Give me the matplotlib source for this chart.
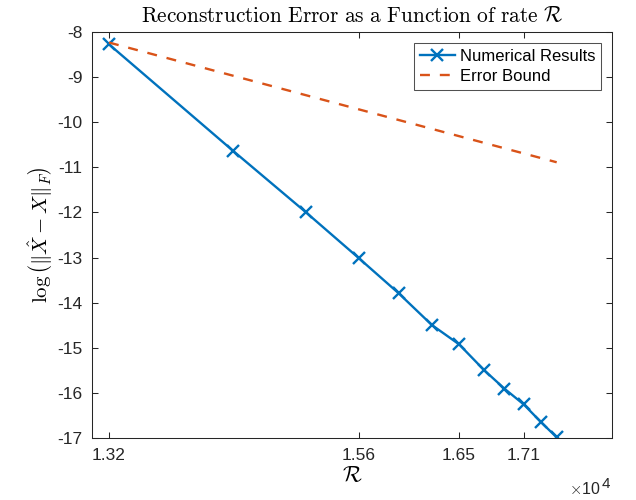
import matplotlib
matplotlib.use("Agg")
import matplotlib.pyplot as plt

# rate R (in units of 1e4) and log reconstruction error
rate = [1.3200, 1.4363, 1.5053, 1.5548, 1.5924, 1.6235, 1.6492, 1.6727,
        1.6918, 1.7100, 1.7266, 1.7410]
err_num = [-8.28, -10.63, -12.00, -13.01, -13.79, -14.49, -14.92, -15.49,
           -15.90, -16.25, -16.65, -16.98]

bound_rate = [1.3200, 1.7410]
err_bound = [-8.24, -10.89]

# ticks sit on data points 0, 3, 6, 9
xtick_idx = [0, 3, 6, 9]
xtick_labels = ["1.32", "1.56", "1.65", "1.71"]
yticks = list(range(-17, -7))

plt.rcParams["font.family"] = ["Liberation Sans", "DejaVu Sans"]
plt.rcParams["mathtext.fontset"] = "cm"

BLUE = "#0072BD"
ORANGE = "#D95319"
AXC = "#262626"

W, H = 636, 500
fig = plt.figure(figsize=(W / 100, H / 100), dpi=100)
ax = fig.add_axes([91.7 / W, 1 - 438.3 / H, (612.3 - 91.7) / W, (438.3 - 31.7) / H])

ax.plot(rate, err_num, color=BLUE, lw=1.7, marker="x", ms=9, mew=1.7,
        label="Numerical Results")
ax.plot(bound_rate, err_bound, color=ORANGE, lw=1.7, ls=(0, (4.2, 4.2)),
        label="Error Bound")

ax.set_xlim(1.3037, 1.7933)
ax.set_ylim(-17, -8)
ax.set_xticks([rate[i] for i in xtick_idx])
ax.set_xticklabels(xtick_labels)
ax.set_yticks(yticks)
ax.set_yticklabels([str(v) for v in yticks])

for s in ax.spines.values():
    s.set_color(AXC)
    s.set_linewidth(0.75)
ax.tick_params(direction="in", length=4.3, width=0.75, colors=AXC,
               labelsize=12.5, top=True, right=True)
ax.tick_params(axis="x", pad=7)
ax.tick_params(axis="y", pad=6.5)

ax.set_title(r"$\mathrm{Reconstruction\ Error\ as\ a\ Function\ of\ rate}\ \mathcal{R}$",
             fontsize=15.4, color="black", pad=7)
ax.set_xlabel(r"$\mathcal{R}$", fontsize=16, labelpad=2)
ax.set_ylabel(r"$\log\left(\|\hat{X}-X\|_F\right)$", fontsize=15, labelpad=2)

# MATLAB-style exponent under the right end of the x axis
fig.text(601 / W, 1 - 494 / H, r"$\times$10", ha="right", va="baseline",
         fontsize=11.5, color=AXC)
fig.text(601.5 / W, 1 - 488 / H, "4", ha="left", va="baseline",
         fontsize=11, color=AXC)

leg = ax.legend(loc="upper right", fontsize=12, frameon=True, fancybox=False,
                borderpad=0.34, handlelength=2.14, handletextpad=0.26,
                labelspacing=0.3, borderaxespad=0,
                bbox_to_anchor=(0.9777, 0.9715))
leg.get_frame().set_edgecolor(AXC)
leg.get_frame().set_linewidth(0.75)

fig.savefig("out.png", dpi=100)
